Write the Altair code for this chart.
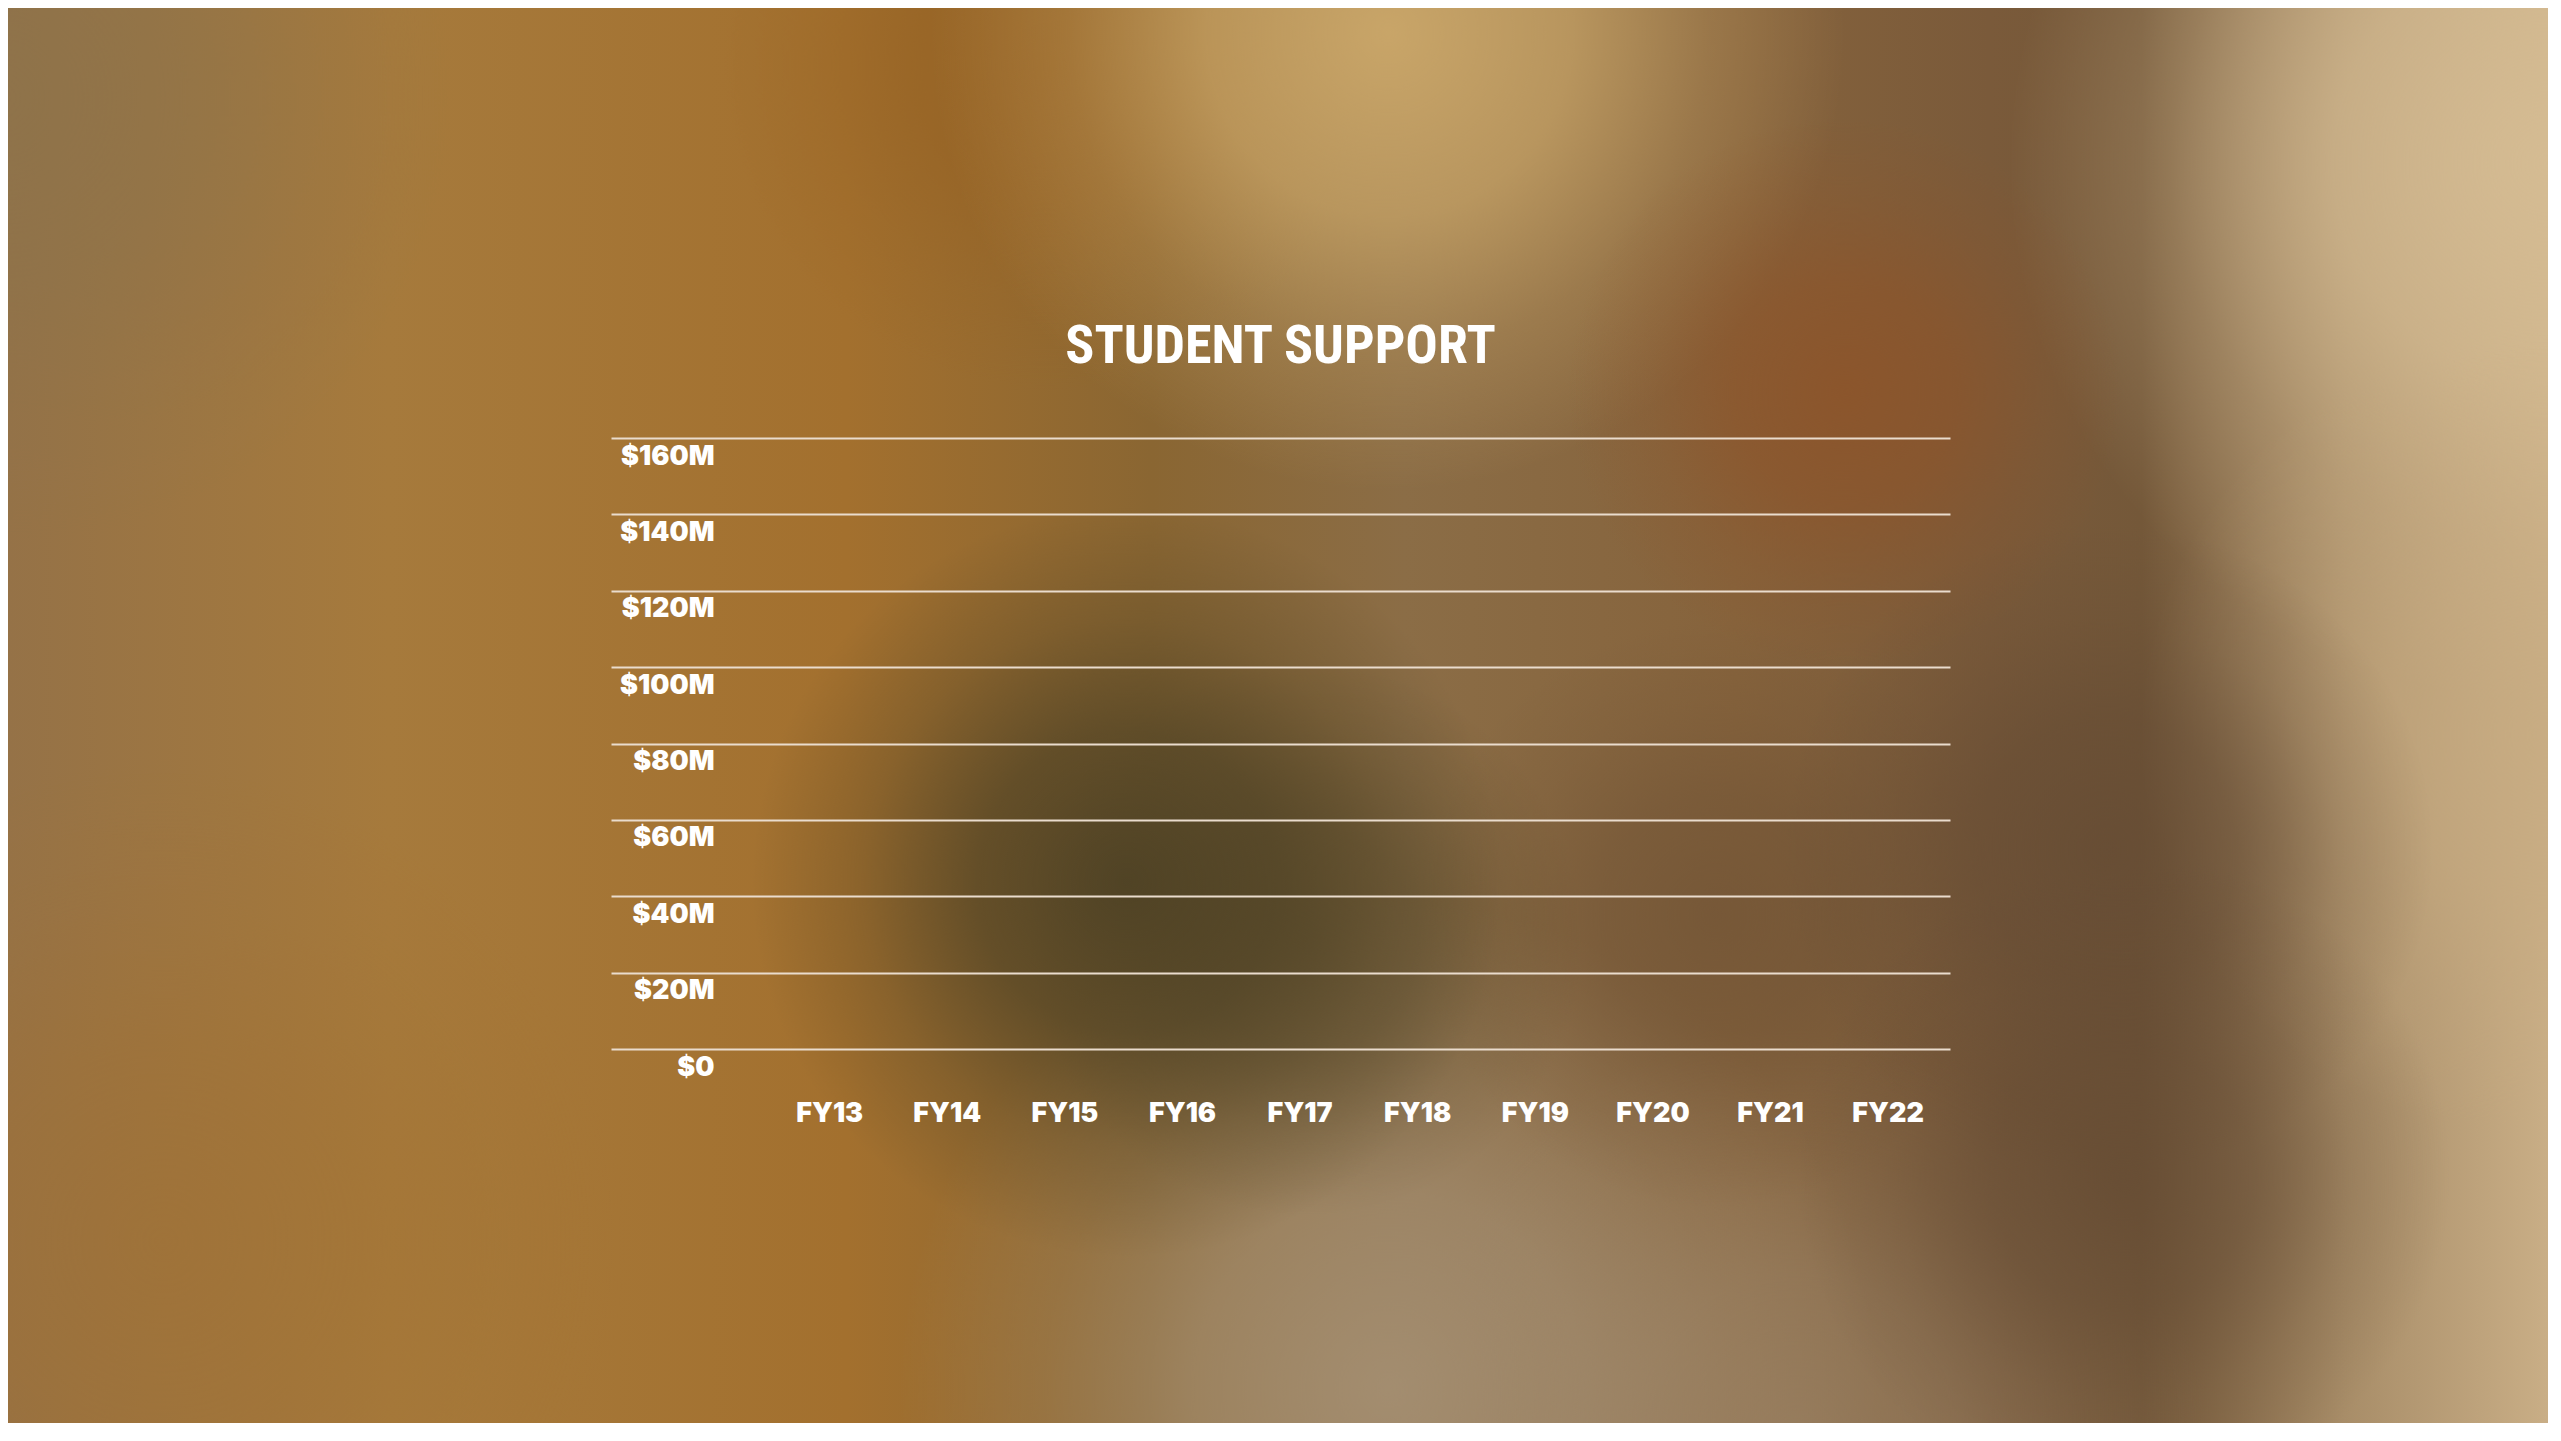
import altair as alt
import pandas as pd

# ---- data (bars are not drawn in the reference: all values read as 0) ----
years = ["FY13", "FY14", "FY15", "FY16", "FY17", "FY18", "FY19", "FY20", "FY21", "FY22"]
support_musd = [0, 0, 0, 0, 0, 0, 0, 0, 0, 0]
y_ticks = [0, 20, 40, 60, 80, 100, 120, 140, 160]
title_text = "STUDENT SUPPORT"

df = pd.DataFrame({"year": years, "value": support_musd})
one = pd.DataFrame({"k": [0]})

# ---- layout (pixels) ----
W, H = 2540, 1415
PL, PT = 603, 430
PW, PH = 1339, 611
PR, PB = W - PL - PW, H - PT - PH
S = 2561 / 1568

def gx(x):
    return x * S - 8 - PL

def gy(y):
    return y * S - 8 - PT

LABEL_FONT = "Inter"
TITLE_FONT = "Roboto Condensed"

# ---- blurred photographic background (decoration) ----
base_stops = [
    (0.00, "#957247"), (0.15, "#a67a3c"), (0.33, "#a3702e"), (0.45, "#8a6632"),
    (0.55, "#8b6d46"), (0.68, "#86633c"), (0.78, "#7a5a3a"), (0.84, "#745839"),
    (0.92, "#a88d68"), (1.00, "#c9ae86"),
]
bg = alt.Chart(one).mark_rect(
    color=alt.LinearGradient(
        gradient="linear", x1=0, x2=1, y1=0, y2=0,
        stops=[alt.GradientStop(offset=o, color=c) for o, c in base_stops],
    )
).encode(x=alt.value(-PL), x2=alt.value(PW + PR), y=alt.value(-PT), y2=alt.value(PH + PB))

blob_specs = [
    # cx, cy, r (thumbnail px), rgb, alpha  -- circular soft blobs
    (0, 60, 280, (138, 115, 76), 0.6),
    (640, 40, 200, (150, 96, 32), 0.7),
    (850, 20, 280, (207, 171, 108), 0.9),
    (1560, 100, 330, (214, 189, 148), 0.9),
    (1560, 450, 250, (200, 172, 130), 0.7),
    (1130, 240, 170, (142, 83, 40), 0.8),
    (100, 760, 300, (162, 112, 48), 0.5),
    (850, 850, 300, (169, 149, 122), 0.8),
    (1100, 880, 250, (160, 138, 110), 0.6),
    (1050, 560, 180, (108, 80, 52), 0.6),
    (1290, 520, 200, (99, 74, 51), 0.75),
    (1300, 720, 200, (99, 74, 51), 0.7),
    (800, 575, 170, (85, 72, 42), 0.6),
    (690, 540, 230, (75, 64, 36), 0.9),
]

def rgba(rgb, a):
    return "rgba(%d,%d,%d,%.3f)" % (rgb[0], rgb[1], rgb[2], a)

blobs = []
for cx, cy, r, rgb, a in blob_specs:
    grad = alt.RadialGradient(
        gradient="radial", x1=0.5, y1=0.5, r1=0, x2=0.5, y2=0.5, r2=0.5,
        stops=[
            alt.GradientStop(offset=0.0, color=rgba(rgb, a)),
            alt.GradientStop(offset=0.4, color=rgba(rgb, a * 0.75)),
            alt.GradientStop(offset=0.7, color=rgba(rgb, a * 0.3)),
            alt.GradientStop(offset=1.0, color=rgba(rgb, 0)),
        ],
    )
    blobs.append(
        alt.Chart(one).mark_rect(color=grad).encode(
            x=alt.value(gx(cx - r)), x2=alt.value(gx(cx + r)),
            y=alt.value(gy(cy - r)), y2=alt.value(gy(cy + r)),
        )
    )

# ---- title (text mark so the background layer does not shift it) ----
title = alt.Chart(one).mark_text(
    text=title_text, font=TITLE_FONT, fontSize=54, fontWeight="bold",
    color="#ffffff", align="center", baseline="alphabetic",
).encode(x=alt.value(PW / 2), y=alt.value(-75))

# ---- bars + axes ----
bars = alt.Chart(df).mark_bar(color="#f2e4d4").encode(
    x=alt.X(
        "year:N", sort=years,
        scale=alt.Scale(paddingInner=0.35, paddingOuter=0.868, align=0.884),
        axis=alt.Axis(
            title=None, labelAngle=0, domain=False, ticks=False, tickSize=0, grid=False,
            labelFont=LABEL_FONT, labelFontSize=27, labelFontWeight=900,
            labelColor="#ffffff", labelPadding=51, labelBaseline="top", zindex=2,
        ),
    ),
    y=alt.Y(
        "value:Q",
        scale=alt.Scale(domain=[0, 160], nice=False),
        axis=alt.Axis(
            title=None, values=y_ticks, domain=False, ticks=False, tickSize=0,
            grid=True, gridColor="#eadccd", gridWidth=2, gridOpacity=1,
            labelFont=LABEL_FONT, labelFontSize=27, labelFontWeight=900,
            labelColor="#ffffff", labelAlign="right", labelBaseline="top",
            labelPadding=-103, labelOffset=5, labelFlush=False, labelOverlap=False,
            labelExpr="datum.value == 0 ? '$0' : '$' + datum.value + 'M'", zindex=2,
        ),
    ),
)

chart = alt.layer(bg, *blobs, title, bars).properties(
    width=PW, height=PH,
    autosize=alt.AutoSizeParams(type="none"),
    padding={"left": PL, "top": PT, "right": PR, "bottom": PB},
    background="#8f6b3c",
).configure_view(stroke=None)

chart.save("out.html", embed_options={"renderer": "svg", "actions": False})
